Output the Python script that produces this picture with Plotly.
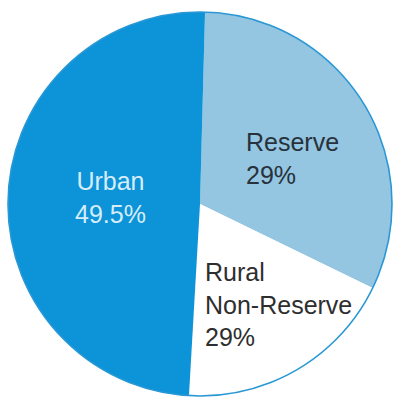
import plotly.graph_objects as go

# Slice order (clockwise from 12 o'clock)
categories = ["Reserve", "Rural<br>Non-Reserve", "Urban"]
slice_values = [31.8, 18.7, 49.5]          # angular share
pct_labels = ["29%", "29%", "49.5%"]        # percentages printed on the chart
slice_colors = ["#94c5e1", "#ffffff", "#0c93d8"]
text_colors = ["#27323c", "#2e2e2e", "#d6edf9"]

# label anchor points (paper coords) and anchors
label_x = [0.618, 0.514, 0.279]
label_y = [0.602, 0.234, 0.503]
label_xanchor = ["left", "left", "center"]
label_align = ["left", "left", "center"]

dom_x = [8 / 395, 392 / 395]
dom_y = [1 / 397, 385 / 397]

fig = go.Figure()
fig.add_trace(go.Pie(
    labels=categories,
    values=slice_values,
    sort=False,
    direction="clockwise",
    rotation=1.5,
    marker=dict(colors=slice_colors, line=dict(width=0)),
    textinfo="none",
    hoverinfo="none",
    showlegend=False,
    domain=dict(x=dom_x, y=dom_y),
))
# outer blue outline
fig.add_trace(go.Pie(
    labels=["outline"],
    values=[1],
    sort=False,
    marker=dict(colors=["rgba(0,0,0,0)"], line=dict(color="#2a98d4", width=1.6)),
    textinfo="none",
    hoverinfo="none",
    showlegend=False,
    domain=dict(x=dom_x, y=dom_y),
))

for cat, pct, x, y, xa, al, col in zip(categories, pct_labels, label_x, label_y,
                                       label_xanchor, label_align, text_colors):
    fig.add_annotation(
        x=x, y=y, xref="paper", yref="paper",
        xanchor=xa, yanchor="middle", align=al,
        text=f"{cat}<br>{pct}", showarrow=False,
        font=dict(family="Liberation Sans, Arial, sans-serif", size=25, color=col),
    )

fig.update_layout(
    width=395, height=397,
    margin=dict(l=0, r=0, t=0, b=0),
    paper_bgcolor="white", plot_bgcolor="white",
)

fig.write_html("out.html")
